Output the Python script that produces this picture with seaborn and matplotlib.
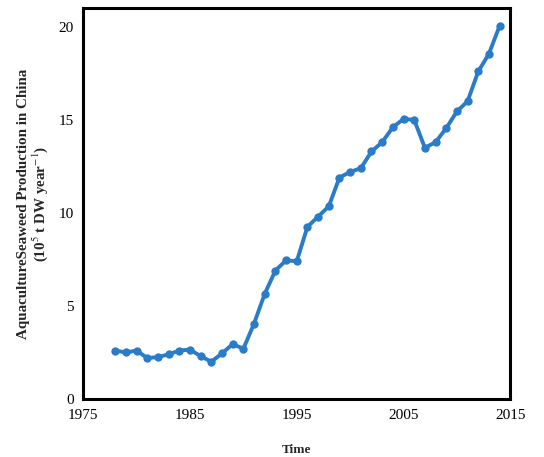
import pandas as pd
import seaborn as sns
import matplotlib.pyplot as plt

# data
years = list(range(1978, 2015))
production = [2.6, 2.5, 2.6, 2.2, 2.25, 2.4, 2.6, 2.65, 2.3, 2.0,
              2.45, 2.95, 2.7, 4.05, 5.65, 6.9, 7.45, 7.4, 9.25, 9.8,
              10.35, 11.9, 12.2, 12.4, 13.3, 13.8, 14.6, 15.05, 15.0, 13.5,
              13.8, 14.55, 15.45, 16.0, 17.6, 18.55, 20.05]
x_ticks = [1975, 1985, 1995, 2005, 2015]
y_ticks = [0, 5, 10, 15, 20]

df = pd.DataFrame({"Time": years, "Production": production})

sns.set_style("white")
plt.rcParams['font.family'] = ['Liberation Serif', 'DejaVu Serif']
plt.rcParams['mathtext.fontset'] = 'stix'

fig = plt.figure(figsize=(5.44, 4.57), dpi=100)
ax = fig.add_axes([0.153, 0.127, 0.785, 0.855])

sns.lineplot(data=df, x="Time", y="Production", ax=ax,
             color="#2a7bc8", linewidth=2.8, marker="o",
             markersize=6, markeredgewidth=0)

ax.set_xlim(1975, 2015)
ax.set_ylim(0, 21)
ax.set_xticks(x_ticks)
ax.set_yticks(y_ticks)
ax.tick_params(direction="in", length=3, width=1.5, labelsize=11,
               colors="black", pad=7)
for s in ax.spines.values():
    s.set_linewidth(2.2)
    s.set_color("black")

ax.set_xlabel("Time", fontsize=9.5, fontweight="bold", labelpad=16)
ax.set_ylabel("AquacultureSeaweed Production in China\n"
              r"(10$^5$ t DW year$^{-1}$)",
              fontsize=10.8, fontweight="bold", labelpad=6,
              linespacing=1.0)

fig.savefig("out.png", dpi=100)
